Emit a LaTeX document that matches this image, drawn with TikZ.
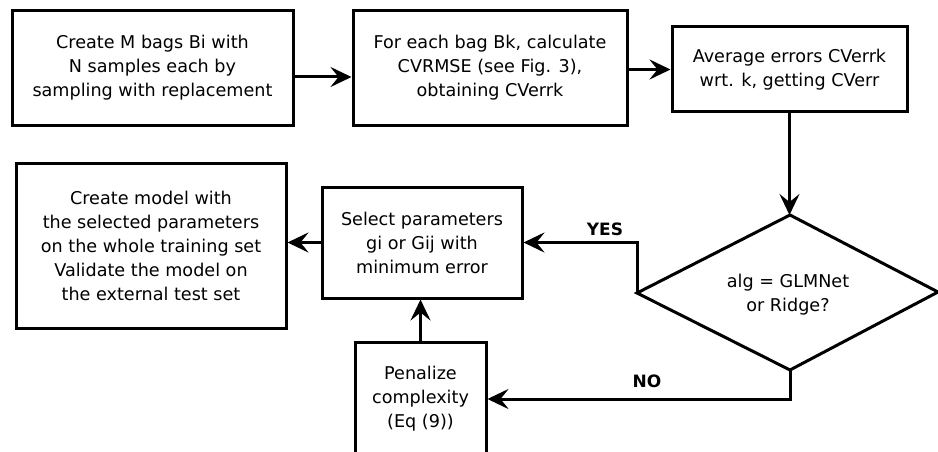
\documentclass[tikz,border=0pt]{standalone}
\usepackage{fontspec}
\setmainfont{DejaVu Sans}
\usetikzlibrary{arrows.meta,calc}
\begin{document}
\begin{tikzpicture}[x=1pt,y=-1pt,
  txt/.style={font=\fontsize{17.6}{24}\selectfont},
  box/.style={draw=black,line width=3pt,align=center,inner sep=0pt,txt},
  arr/.style={line width=3pt,-{Stealth[length=21pt,width=20pt,inset=8pt]}},
  lbl/.style={font=\fontsize{17}{20}\selectfont\bfseries}]
\clip (0,0) rectangle (938,452);
\fill[white] (0,0) rectangle (938,452);
% boxes
\node[box,minimum width=281pt,minimum height=114pt] (b1) at (152.5,68)
  {\raisebox{-7pt}{\begin{tabular}{@{}c@{}}Create M bags Bi with\\N samples each by\\sampling with replacement\end{tabular}}};
\node[box,minimum width=274pt,minimum height=114pt] (b2) at (490,68)
  {For each bag Bk, calculate\\CVRMSE (see Fig. 3),\\obtaining CVerrk};
\node[box,minimum width=235pt,minimum height=85pt] (b3) at (789.5,69.5)
  {Average errors CVerrk\\wrt. k, getting CVerr};
\node[box,minimum width=200pt,minimum height=111pt] (sel) at (422,242.5)
  {Select parameters\\gi or Gij with\\minimum error};
\node[box,minimum width=270pt,minimum height=165pt] (cr) at (151,245.5)
  {Create model with\\the selected parameters\\on the whole training set\\Validate the model on\\the external test set};
\node[box,minimum width=131pt,minimum height=114pt] (pen) at (420.5,399)
  {Penalize\\complexity\\(Eq (9))};
% diamond
\coordinate (dT) at (790,215);
\coordinate (dL) at (637,293);
\coordinate (dB) at (790,370);
\coordinate (dR) at (938,292);
\draw[line width=3pt,line join=miter] (dT) -- (dR) -- (dB) -- (dL) -- cycle;
\node[txt,align=center] (dtext) at (788,295) {alg = GLMNet\\or Ridge?};
% connectors
\draw[arr] ([yshift=-9pt]b1.east) -- ([yshift=-9pt]b1.east -| b2.west);
\draw[arr] (b3.west -| b2.east) -- (b3.west);
\draw[arr] (b3.south) -- (b3.south |- dT);
\draw[arr] (dL) |- (sel.east);
\draw[arr] (sel.west) -- (sel.west -| cr.east);
\draw[arr] (dB) |- (pen.east);
\draw[arr] (pen.north) -- (pen.north |- sel.south);
% labels
\node[lbl] (yes) at (605,229) {YES};
\node[lbl] (no) at (647,381) {NO};
\end{tikzpicture}
\end{document}
